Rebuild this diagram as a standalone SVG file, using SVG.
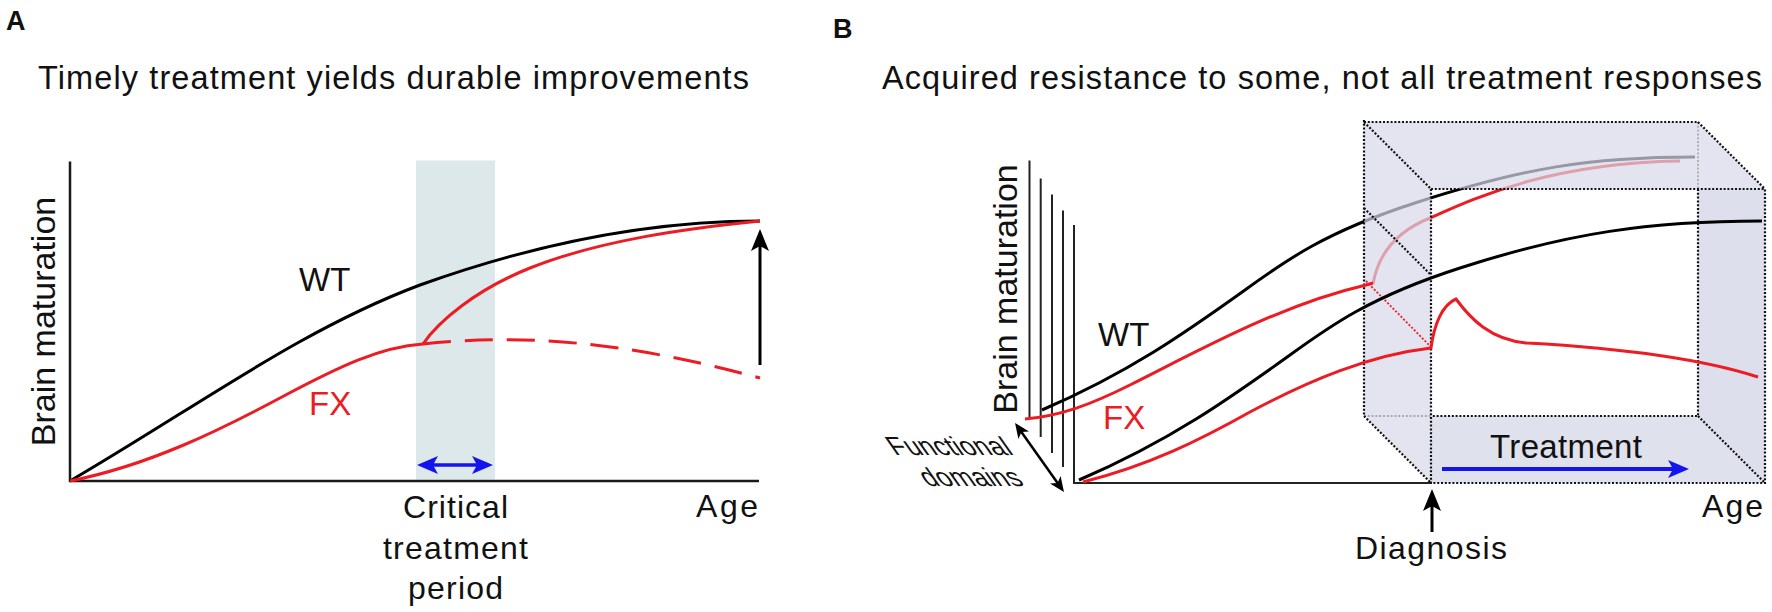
<svg xmlns="http://www.w3.org/2000/svg" width="1772" height="612" viewBox="0 0 1772 612">
<defs>
<style>
text { font-family: "Liberation Sans", Arial, Helvetica, sans-serif; fill: #111; }
.lbl { font-weight: bold; font-size: 27px; }
.title { font-size: 32.5px; }
.t { font-size: 32px; }
.red { fill: #ec1c24; }
.axis { stroke: #1a1a1a; stroke-width: 2.5; fill: none; }
.ax2 { stroke: #222; stroke-width: 2; fill: none; }
.wt { stroke: #000; stroke-width: 3; fill: none; }
.fx { stroke: #ec1c24; stroke-width: 3; fill: none; }
.dot { stroke: #111; stroke-width: 2.2; stroke-dasharray: 2 1.8; fill: none; }
.dotg { stroke: #a9a9b0; stroke-width: 1.8; stroke-dasharray: 2 1.8; fill: none; }
.dotr { stroke: #ec1c24; stroke-width: 1.8; stroke-dasharray: 2 1.8; fill: none; }
</style>
<marker id="ahK" viewBox="0 0 22 18" refX="5" refY="9" markerWidth="22" markerHeight="18" markerUnits="userSpaceOnUse" orient="auto-start-reverse">
<path d="M0,0 L22,9 L0,18 L5,9 Z" fill="#000"/>
</marker>
<marker id="ahB" viewBox="0 0 21 18" refX="5" refY="9" markerWidth="21" markerHeight="18" markerUnits="userSpaceOnUse" orient="auto-start-reverse">
<path d="M0,0 L21,9 L0,18 L5,9 Z" fill="#1414ee"/>
</marker>
<marker id="ahS" viewBox="0 0 15 13" refX="4" refY="6.5" markerWidth="15" markerHeight="13" markerUnits="userSpaceOnUse" orient="auto-start-reverse">
<path d="M0,0 L15,6.5 L0,13 L4,6.5 Z" fill="#000"/>
</marker>
</defs>
<rect width="1772" height="612" fill="#fff"/>

<!-- Panel A -->
<g id="panelA">
<text class="lbl" x="6" y="30">A</text>
<text class="title" x="38" y="89" textLength="711">Timely treatment yields durable improvements</text>
<rect id="critical-window" x="416" y="160.5" width="79" height="319" fill="#dde8ea"/>
<g id="axesA">
<path class="axis" d="M70,161.5 V481 H759"/>
</g>
<text class="t" transform="translate(55,321.5) rotate(-90)" text-anchor="middle" style="font-size:34px">Brain maturation</text>
<g id="curvesA">
<path id="wtA" class="wt" d="M70,481 C200,405 300,330 420,285 C540,242 650,221 760,221"/>
<path id="fxA" class="fx" d="M70,481 C150,465 220,430 280,398 C340,366 380,347 423,344"/>
<path id="fxA-untreated" class="fx" stroke-dasharray="28 14" d="M423,344 C520,334 620,340 760,378"/>
<path id="fxA-treated" class="fx" d="M423,344 C438,322 475,290 530,268 C600,240 690,228 760,221"/>
</g>
<text class="t" x="299" y="291" style="font-size:33px">WT</text>
<text class="t red" x="309" y="415" style="font-size:33px">FX</text>
<g id="connectorsA">
<line x1="760" y1="365" x2="760" y2="246" stroke="#000" stroke-width="3" marker-end="url(#ahK)"/>
<line x1="433" y1="465" x2="477" y2="465" stroke="#1414ee" stroke-width="3.5" marker-start="url(#ahB)" marker-end="url(#ahB)"/>
</g>
<text class="t" x="455.5" y="518" text-anchor="middle" textLength="105">Critical</text>
<text class="t" x="455.5" y="559" text-anchor="middle" textLength="145">treatment</text>
<text class="t" x="455.5" y="599" text-anchor="middle" textLength="95">period</text>
<text class="t" x="758" y="517" text-anchor="end" textLength="62">Age</text>
</g>

<!-- Panel B -->
<g id="panelB">
<text class="lbl" x="833" y="38">B</text>
<text class="title" x="882" y="89" textLength="880">Acquired resistance to some, not all treatment responses</text>

<g id="domainAxes">
<line class="ax2" x1="1029.5" y1="160.5" x2="1029.5" y2="418"/>
<line class="ax2" x1="1040.7" y1="178.5" x2="1040.7" y2="437"/>
<line class="ax2" x1="1052" y1="194.5" x2="1052" y2="453"/>
<line class="ax2" x1="1063" y1="210.5" x2="1063" y2="467"/>
<path class="ax2" d="M1074,225 V483 H1432"/>
</g>
<text class="t" transform="translate(1017,289) rotate(-90)" text-anchor="middle" style="font-size:34px">Brain maturation</text>

<!-- back curves (behind translucent box) -->
<g id="backCurves">
<path id="wtB-back" class="wt" stroke-width="2.6" d="M1042,410 C1128,373 1185,333 1245,290 C1285,261 1325,232 1415,203 C1523,168 1590,157 1695,157"/>
<path id="fxB-back-treated" class="fx" stroke-width="2.6" d="M1373,284 C1378,255 1395,232 1430,218 C1475,198 1550,163 1680,161"/>
</g>

<!-- translucent box faces -->
<g id="box">
<path fill="rgb(215,216,232)" fill-opacity="0.7" fill-rule="evenodd" d="M1364,122 L1698,122 L1765,189 L1765,483 L1431,483 L1364,416 Z M1431,189 L1431,416 L1698,416 L1698,189 Z"/>
<path fill="rgb(200,202,222)" fill-opacity="0.18" d="M1698,189 L1765,189 L1765,483 L1698,416 Z"/>
<path fill="rgb(200,202,222)" fill-opacity="0.12" d="M1431,416 L1698,416 L1765,483 L1431,483 Z"/>
<line class="dotg" x1="1698" y1="122" x2="1698" y2="189"/>
<line class="dotg" x1="1364" y1="416" x2="1431" y2="416"/>
<path class="dot" d="M1364,120 V416"/>
<path class="dot" d="M1364,122 H1698"/>
<path class="dot" d="M1698,189 V416 H1431"/>
<path class="dot" d="M1431,189 H1765 V483 H1431 Z"/>
<line class="dot" x1="1364" y1="122" x2="1431" y2="189"/>
<line class="dot" x1="1698" y1="122" x2="1765" y2="189"/>
<line class="dot" x1="1364" y1="416" x2="1431" y2="483"/>
<line class="dot" x1="1698" y1="416" x2="1765" y2="483"/>
<line class="dot" x1="1364" y1="208" x2="1431" y2="275"/>
</g>

<g id="frontCurves">
<path id="fxB-back" class="fx" stroke-width="2.6" d="M1025,419 C1060,416 1090,405 1130,385 C1200,350 1280,305 1366,285 L1373,283"/>
<line class="dotr" x1="1366" y1="281" x2="1431" y2="347"/>
<path id="wtB-front" class="wt" d="M1079,480 C1170,441 1230,398 1290,355 C1330,326 1370,297 1460,268 C1568,233 1650,221 1762,221"/>
<path id="fxB-front" class="fx" d="M1083,482 C1150,465 1200,440 1250,412 C1310,380 1370,355 1431,348 C1434,325 1442,305 1456,299 C1470,318 1490,340 1527,343 C1600,347 1690,355 1758,377"/>
</g>

<text class="t" x="1098" y="346" style="font-size:33px">WT</text>
<text class="t red" x="1103" y="429" style="font-size:33px">FX</text>

<g id="functionalDomains">
<g transform="translate(955,455) skewX(35)">
<text x="0" y="0" text-anchor="middle" style="font-size:26px">Functional</text>
<text x="0" y="31" text-anchor="middle" style="font-size:26px">domains</text>
</g>
</g>

<g id="connectorsB">
<line x1="1021.4" y1="432" x2="1057.6" y2="483" stroke="#000" stroke-width="2.5" marker-start="url(#ahS)" marker-end="url(#ahS)"/>
<line x1="1432" y1="532" x2="1432" y2="506" stroke="#000" stroke-width="3" marker-end="url(#ahK)"/>
<line x1="1442" y1="469" x2="1673" y2="469" stroke="#1414ee" stroke-width="4" marker-end="url(#ahB)"/>
</g>

<text class="t" x="1566" y="458" text-anchor="middle" textLength="152" style="font-size:33px">Treatment</text>
<text class="t" x="1431" y="559" text-anchor="middle" textLength="152">Diagnosis</text>
<text class="t" x="1763" y="517" text-anchor="end" textLength="61">Age</text>
</g>
</svg>
